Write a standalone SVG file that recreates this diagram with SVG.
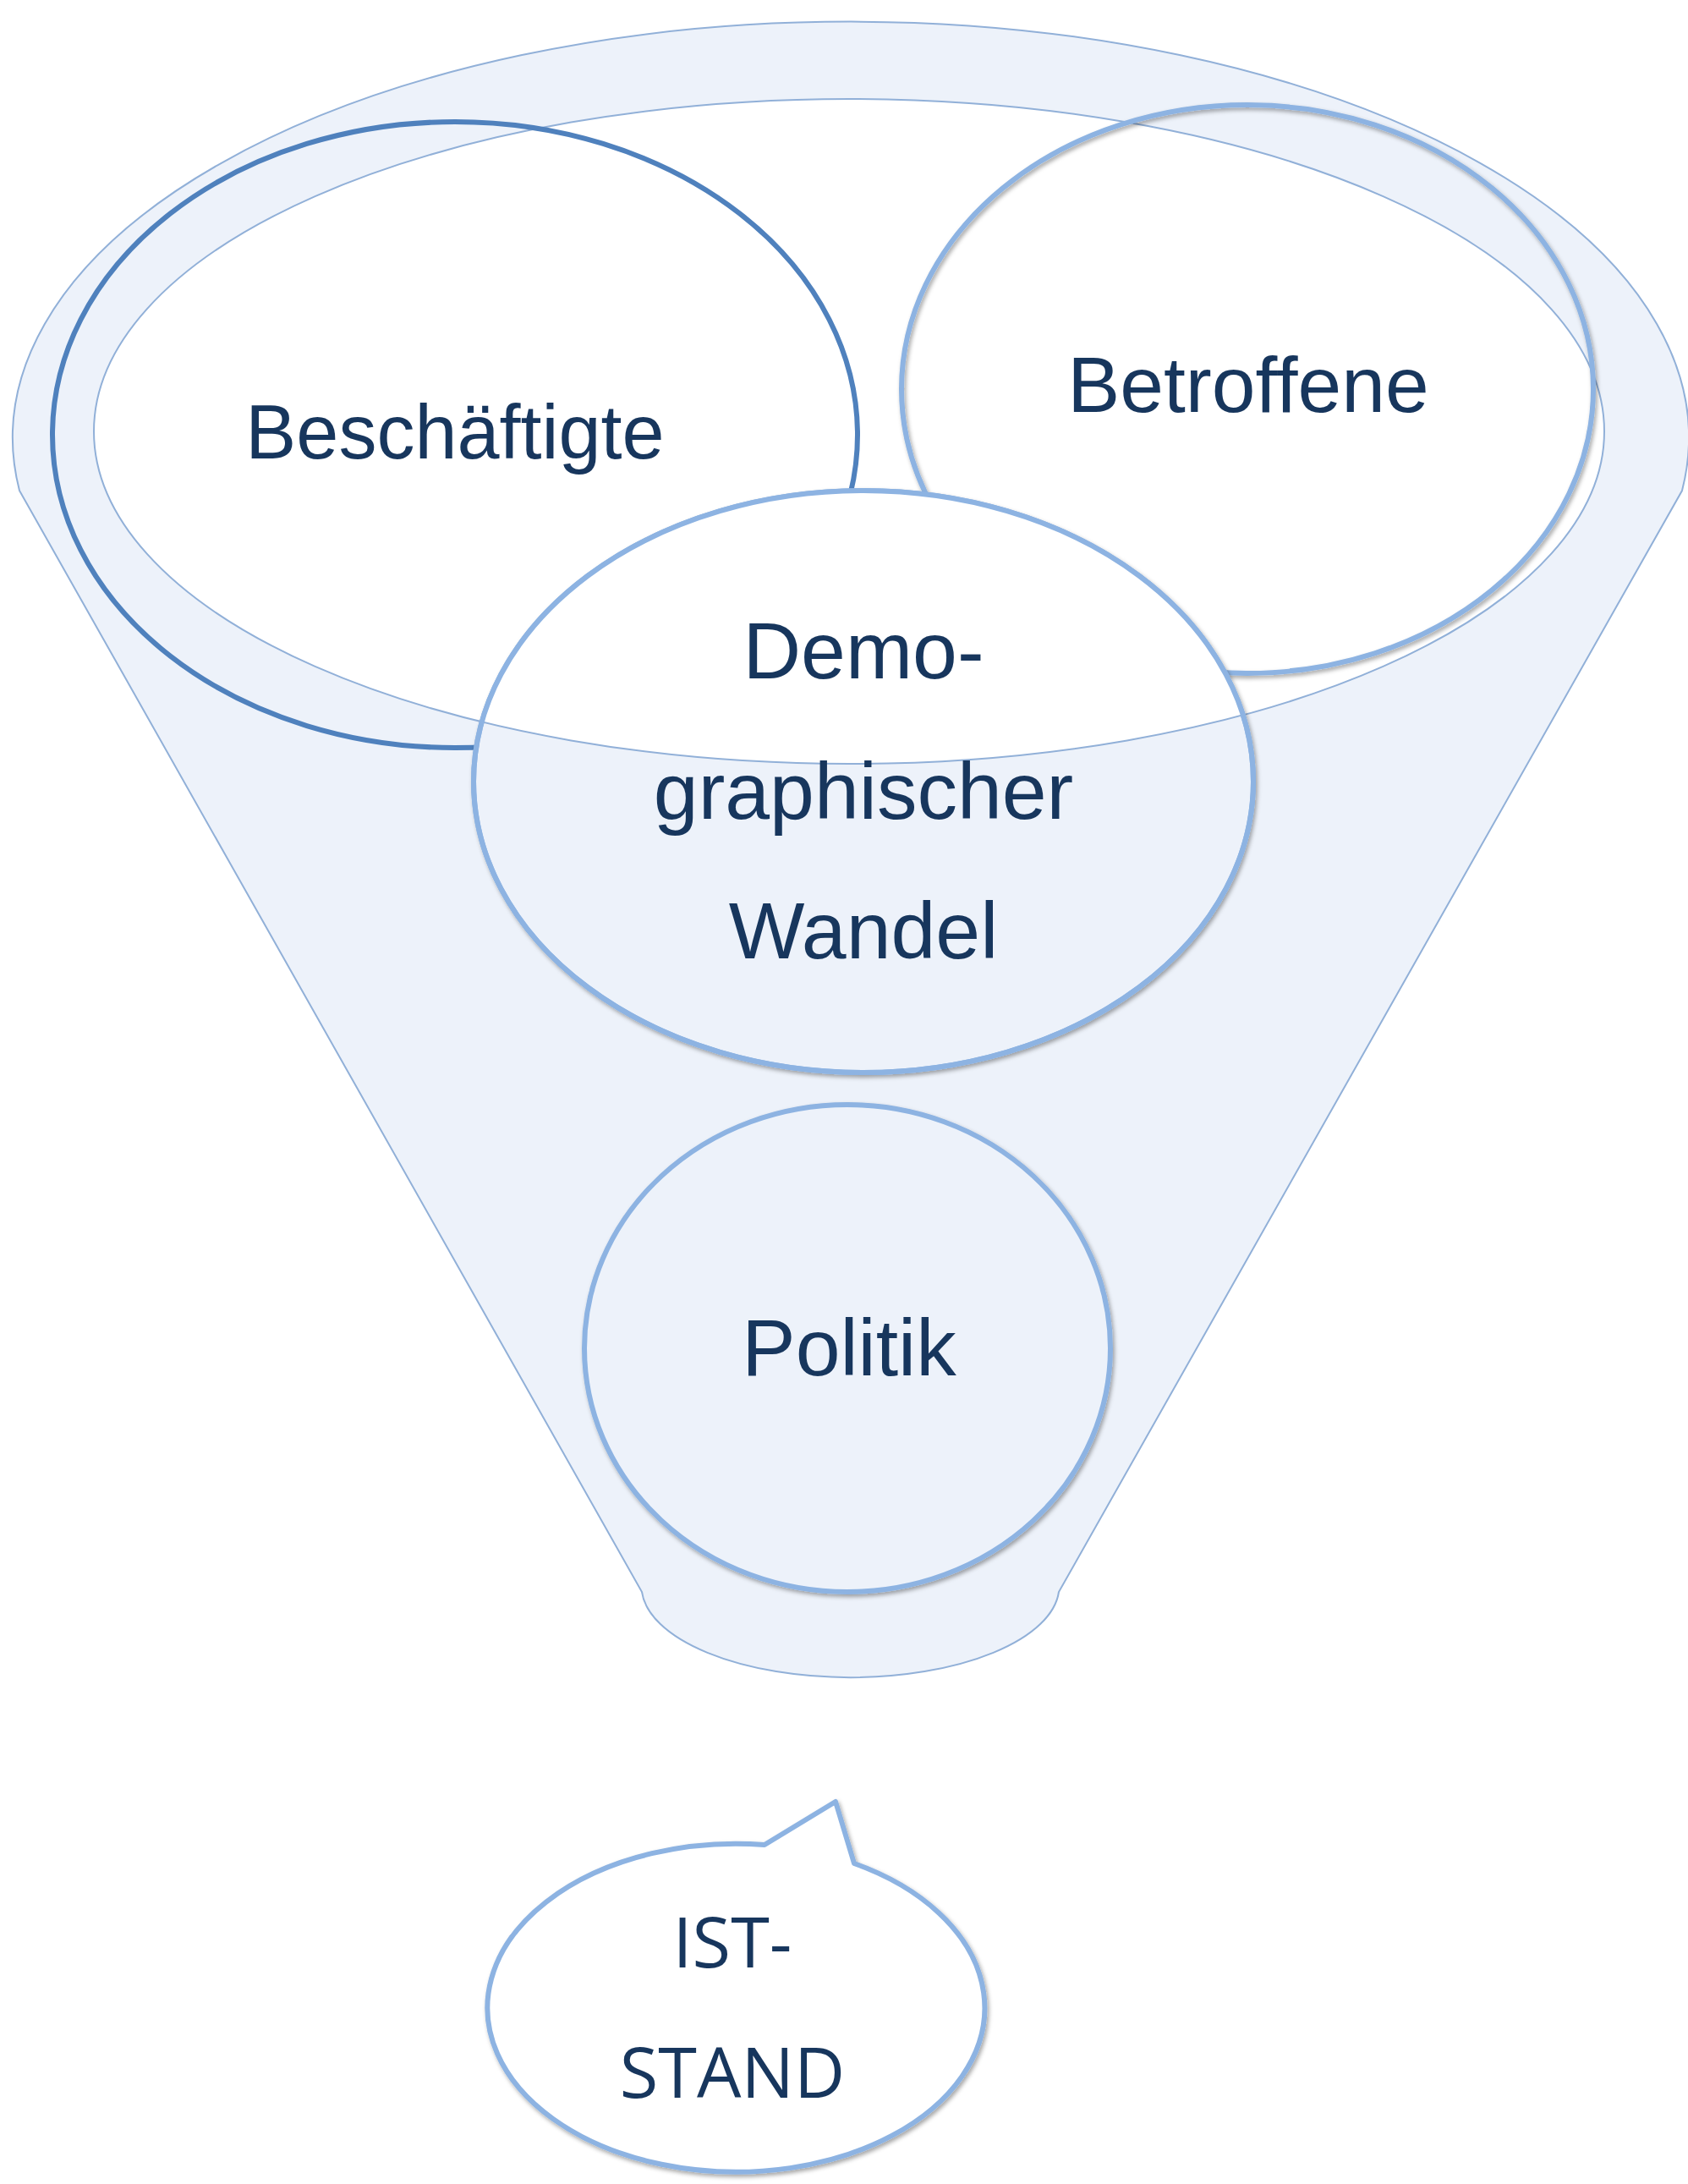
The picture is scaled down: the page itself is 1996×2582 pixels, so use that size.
<svg xmlns="http://www.w3.org/2000/svg" width="1996" height="2582" viewBox="0 0 1996 2582">
<style>
.lbl{font-family:"Liberation Sans",Arial,sans-serif;fill:#17365D;text-anchor:middle}
.cal{font-family:"Open Sans","Noto Sans",sans-serif;fill:#17365D;text-anchor:middle}
.thin{stroke:#91B0D8;stroke-width:2}
.ring{stroke:#8DB3E2;stroke-width:6}
</style>
<defs>
<filter id="sh" x="-10%" y="-10%" width="120%" height="120%">
<feDropShadow dx="2" dy="3" stdDeviation="2.5" flood-color="#000" flood-opacity="0.35"/>
</filter>
<clipPath id="demoClip"><ellipse cx="1021" cy="924" rx="461" ry="344"/></clipPath>
</defs>
<rect width="1996" height="2582" fill="#fff"/>
<g id="funnel">
<path class="thin" fill="#EDF2FA" d="M23,580 L759,1882 A247,108 0 0 0 1252,1882 L1989,580 A991,492 0 1 0 23,580 Z"/>
<ellipse class="thin" fill="#fff" cx="1004" cy="510" rx="893" ry="393"/>
</g>
<g id="beschaeftigte">
<ellipse fill="none" stroke="#4F81BD" stroke-width="6" cx="538" cy="514" rx="476" ry="370"/>
<text class="lbl" x="538" y="542" font-size="90">Beschäftigte</text>
</g>
<g id="betroffene">
<ellipse class="ring" fill="none" filter="url(#sh)" cx="1475" cy="460" rx="409" ry="336"/>
<text class="lbl" x="1476" y="487" font-size="93">Betroffene</text>
</g>
<g id="demographischer-wandel">
<ellipse class="ring" fill="#EDF2FA" filter="url(#sh)" cx="1021" cy="924" rx="461" ry="344"/>
<ellipse class="thin" fill="#fff" clip-path="url(#demoClip)" cx="1004" cy="510" rx="893" ry="393"/>
<ellipse class="ring" fill="none" cx="1021" cy="924" rx="461" ry="344"/>
<text class="lbl" font-size="95"><tspan x="1021" y="802">Demo-</tspan><tspan x="1021" y="968">graphischer</tspan><tspan x="1021" y="1133">Wandel</tspan></text>
</g>
<g id="politik">
<ellipse class="ring" fill="#EDF2FA" filter="url(#sh)" cx="1002" cy="1594" rx="311" ry="288"/>
<text class="lbl" x="1004" y="1626" font-size="95">Politik</text>
</g>
<g id="ist-stand">
<path class="ring" fill="#fff" filter="url(#sh)" stroke-linejoin="round" d="M904,2181 L988,2130 L1010,2203 A294,194 0 1 1 904,2181 Z"/>
<text class="cal" font-size="83"><tspan x="866" y="2326">IST-</tspan><tspan x="866" y="2480">STAND</tspan></text>
</g>
<g id="connectors"></g>
</svg>
